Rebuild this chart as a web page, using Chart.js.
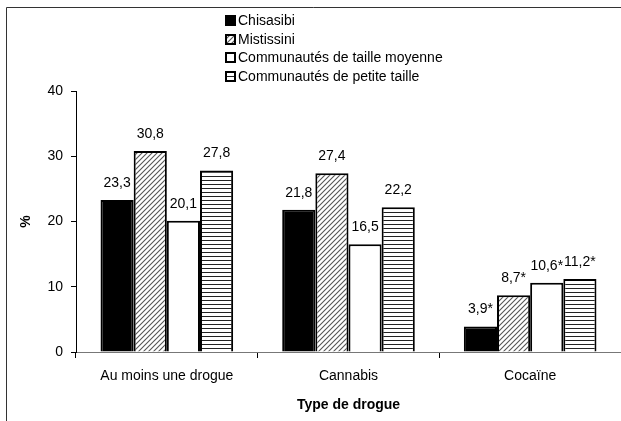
<!DOCTYPE html>
<html>
<head>
<meta charset="utf-8">
<script src="https://cdn.jsdelivr.net/npm/chart.js@4/dist/chart.umd.min.js"></script>
<style>
  body { margin: 0; background: #fff; }
  #wrap { width: 621px; height: 421px; position: relative; }
</style>
</head>
<body>
<div id="wrap"><canvas id="barChart"></canvas></div>
<script>
// Data
const categories = ["Au moins une drogue", "Cannabis", "Cocaïne"];
const seriesNames = [
  "Chisasibi",
  "Mistissini",
  "Communautés de taille moyenne",
  "Communautés de petite taille"
];
const chisasibi = [23.3, 21.8, 3.9];
const mistissini = [30.8, 27.4, 8.7];
const tailleMoyenne = [20.1, 16.5, 10.6];
const petiteTaille = [27.8, 22.2, 11.2];
// estimates marked with * in the reference (per category)
const starred = [false, false, true];
const yTicks = [0, 10, 20, 30, 40];

const FONT = "'Liberation Sans', Arial, sans-serif";
const FS = 14;

// hatch patterns
function diagPattern() {
  const c = document.createElement("canvas");
  c.width = 5; c.height = 5;
  const g = c.getContext("2d");
  g.fillStyle = "#fff";
  g.fillRect(0, 0, 5, 5);
  g.strokeStyle = "#555";
  g.lineWidth = 1.1;
  g.beginPath();
  g.moveTo(-1, 6); g.lineTo(6, -1);
  g.moveTo(-1, 1); g.lineTo(1, -1);
  g.moveTo(4, 6); g.lineTo(6, 4);
  g.stroke();
  return g.createPattern(c, "repeat");
}
function stripePattern() {
  const c = document.createElement("canvas");
  c.width = 4; c.height = 4;
  const g = c.getContext("2d");
  g.fillStyle = "#fff";
  g.fillRect(0, 0, 4, 4);
  g.fillStyle = "#222";
  g.fillRect(0, 0, 4, 1);
  return g.createPattern(c, "repeat");
}

const fills = ["#000", diagPattern(), "#fff", stripePattern()];
const seriesData = [chisasibi, mistissini, tailleMoyenne, petiteTaille];

// frame lines (top and left) like the cropped original
const framePlugin = {
  id: "frame",
  beforeDraw(chart) {
    const ctx = chart.ctx;
    ctx.save();
    ctx.strokeStyle = "#333";
    ctx.lineWidth = 1;
    ctx.beginPath();
    ctx.moveTo(6.5, 421);
    ctx.lineTo(6.5, 7.5);
    ctx.lineTo(621, 7.5);
    ctx.stroke();
    ctx.restore();
  }
};

// value labels above bars
const valueLabels = {
  id: "valueLabels",
  afterDatasetsDraw(chart) {
    const ctx = chart.ctx;
    ctx.save();
    ctx.font = FS + "px " + FONT;
    ctx.fillStyle = "#000";
    ctx.textAlign = "center";
    ctx.textBaseline = "middle";
    chart.data.datasets.forEach((ds, i) => {
      chart.getDatasetMeta(i).data.forEach((bar, j) => {
        const txt = ds.data[j].toFixed(1).replace(".", ",") + (starred[j] ? "*" : "");
        ctx.fillText(txt, bar.x, bar.y - 17);
      });
    });
    ctx.restore();
  }
};

// vertical legend, Excel style
const legendBox = {
  id: "legendBox",
  afterDraw(chart) {
    const ctx = chart.ctx;
    const x = 225;
    const rows = [20, 38.5, 57, 75.5];
    ctx.save();
    ctx.font = FS + "px " + FONT;
    ctx.textBaseline = "middle";
    chart.data.datasets.forEach((ds, i) => {
      const y = Math.round(rows[i]);
      ctx.fillStyle = ds.backgroundColor;
      ctx.fillRect(x, y - 5, 11, 11);
      ctx.strokeStyle = "#000";
      ctx.lineWidth = 2;
      ctx.strokeRect(x + 1, y - 4, 9, 9);
      ctx.fillStyle = "#000";
      ctx.fillText(ds.label, x + 13, y + 1);
    });
    ctx.restore();
  }
};

const ctx = document.getElementById("barChart").getContext("2d");

const chartData = {
  labels: categories,
  datasets: seriesNames.map((name, i) => ({
    label: name,
    data: seriesData[i],
    backgroundColor: fills[i],
    borderColor: "#000",
    borderWidth: 2,
    categoryPercentage: 0.73,
    barPercentage: 1.0
  }))
};

new Chart(ctx, {
  type: "bar",
  data: chartData,
  options: {
    responsive: true,
    maintainAspectRatio: false,
    animation: false,
    layout: {
      padding: { top: 91, right: -6, bottom: 0, left: -2 }
    },
    plugins: {
      legend: { display: false },
      tooltip: { enabled: false }
    },
    scales: {
      x: {
        afterFit(scale) { scale.height = 69; },
        grid: {
          offset: true,
          drawOnChartArea: false,
          drawTicks: true,
          tickLength: 6,
          color: "#000"
        },
        border: { display: true, color: "#777", width: 1 },
        ticks: {
          color: "#000",
          font: { family: FONT, size: FS },
          padding: 10,
          maxRotation: 0
        },
        title: {
          display: true,
          text: "Type de drogue",
          color: "#000",
          font: { family: FONT, size: FS, weight: "bold" },
          padding: { top: 0, bottom: 7 }
        }
      },
      y: {
        min: 0,
        max: 40,
        afterFit(scale) { scale.width = 78; },
        afterBuildTicks(scale) {
          scale.ticks = yTicks.map((v) => ({ value: v }));
        },
        grid: {
          drawOnChartArea: false,
          drawTicks: true,
          tickLength: 5,
          color: "#000"
        },
        border: { display: true, color: "#000", width: 1 },
        ticks: {
          color: "#000",
          font: { family: FONT, size: FS },
          padding: 8
        },
        title: {
          display: true,
          text: "%",
          color: "#000",
          font: { family: FONT, size: FS, weight: "bold" },
          padding: { top: 20, bottom: 0 }
        }
      }
    }
  },
  plugins: [framePlugin, valueLabels, legendBox]
});
</script>
</body>
</html>
